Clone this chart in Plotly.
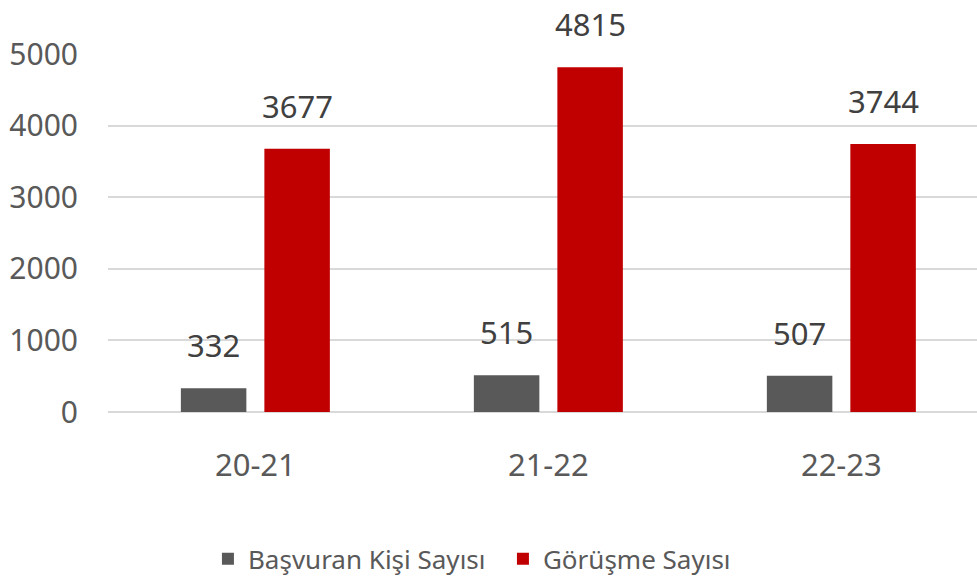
import plotly.graph_objects as go

categories = ["20-21", "21-22", "22-23"]
basvuran = [332, 515, 507]
gorusme = [3677, 4815, 3744]
series_names = ["Başvuran Kişi Sayısı", "Görüşme Sayısı"]
y_ticks = [0, 1000, 2000, 3000, 4000, 5000]

FONT = "Noto Sans, Open Sans, sans-serif"
GRAY = "#595959"
RED = "#C00000"
TXT = "#595959"

BARGAP = 0.43
GROUPGAP = 0.2156

fig = go.Figure()
fig.add_trace(go.Bar(x=categories, y=basvuran, name=series_names[0],
                     marker=dict(color=GRAY, line=dict(width=0))))
fig.add_trace(go.Bar(x=categories, y=gorusme, name=series_names[1],
                     marker=dict(color=RED, line=dict(width=0))))

slot = (1 - BARGAP) / 2
annotations = []
for i, cat in enumerate(categories):
    for vals, off in ((basvuran, -slot / 2), (gorusme, slot / 2)):
        annotations.append(dict(
            x=i + off, y=vals[i], xref="x", yref="y",
            text=str(vals[i]), showarrow=False,
            yanchor="bottom", yshift=20,
            font=dict(family=FONT, size=31, color="#404040")))

fig.update_layout(
    width=977, height=586,
    margin=dict(l=108, r=0, t=54, b=174),
    paper_bgcolor="white", plot_bgcolor="white",
    barmode="group", bargap=BARGAP, bargroupgap=GROUPGAP,
    font=dict(family=FONT, size=31, color=TXT),
    showlegend=True,
    legend=dict(orientation="h", x=0.115, xanchor="left", y=-0.41, yanchor="middle",
                font=dict(family=FONT, size=26, color=TXT),
                entrywidth=250, entrywidthmode="pixels",
                traceorder="normal", itemwidth=30, bgcolor="rgba(0,0,0,0)"),
    annotations=annotations,
    xaxis=dict(range=[-0.503, 2.463], showgrid=False, showline=False, ticks="",
               automargin=False,
               tickfont=dict(family=FONT, size=31, color=TXT),
               ticklabelstandoff=32),
    yaxis=dict(range=[0, 5000], tickvals=y_ticks, showgrid=True,
               automargin=False,
               gridcolor="#D9D9D9", gridwidth=2,
               zeroline=True, zerolinecolor="#D9D9D9", zerolinewidth=2,
               showline=False, ticks="",
               tickfont=dict(family=FONT, size=30, color=TXT),
               ticklabelstandoff=29),
)

fig.write_html("out.html", config={"displayModeBar": False},
               post_script="document.body.style.margin='0';document.body.style.overflow='hidden';")
